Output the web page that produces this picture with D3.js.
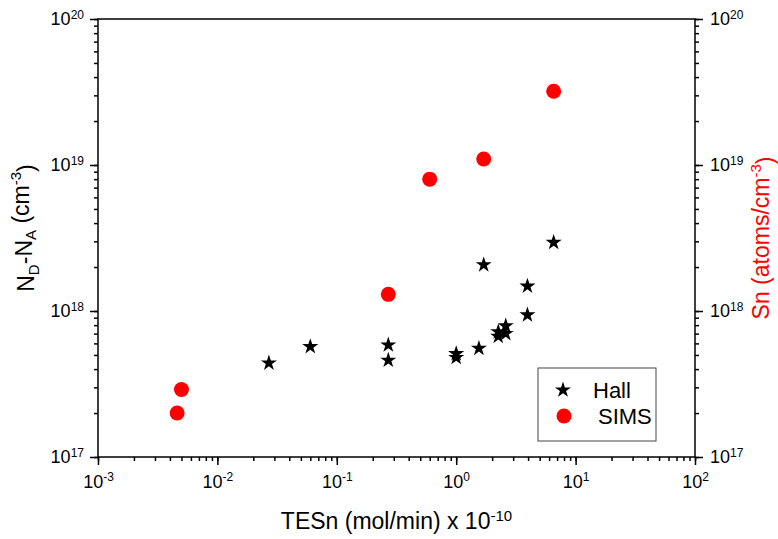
<!DOCTYPE html>
<html>
<head>
<meta charset="utf-8">
<script src="https://cdn.jsdelivr.net/npm/d3@7"></script>
<style>
    body { margin: 0; background: #fff; }
    svg { font-family: "Liberation Sans", Arial, sans-serif; }
</style>
</head>
<body>
<div id="chart"></div>
<script>
// TESn flow (x 1e-10 mol/min) vs carrier / Sn concentration
const hallX = [0.027, 0.06, 0.27, 0.27, 1.0, 1.0, 1.55, 2.25, 2.6, 2.25, 2.6, 3.95, 3.95, 1.7, 6.55];
const hallY = [4.4e17, 5.7e17, 5.85e17, 4.6e17, 5.1e17, 4.8e17, 5.55e17, 7.2e17, 7.9e17, 6.7e17, 7.0e17, 9.4e17, 1.48e18, 2.07e18, 2.95e18];
const simsX = [0.0046, 0.005, 0.27, 0.6, 1.7, 6.55];
const simsY = [2.0e17, 2.9e17, 1.3e18, 8.0e18, 1.1e19, 3.2e19];
const xDomain = [1e-3, 1e2];
const yDomain = [1e17, 1e20];
const xMajor = [1e-3, 1e-2, 1e-1, 1, 10, 100];
const yMajor = [1e17, 1e18, 1e19, 1e20];
const seriesNames = ["Hall", "SIMS"];

const width = 778;
const height = 539;
const margin = { top: 19, right: 83, bottom: 82, left: 98 };
const plotW = width - margin.left - margin.right;
const plotH = height - margin.top - margin.bottom;

const svg = d3.select("#chart")
    .append("svg")
    .attr("width", width)
    .attr("height", height);

const g = svg.append("g")
    .attr("transform", "translate(" + margin.left + "," + margin.top + ")");

const x = d3.scaleLog().domain(xDomain).range([0, plotW]);
const yLeft = d3.scaleLog().domain(yDomain).range([plotH, 0]);
const yRight = d3.scaleLog().domain(yDomain).range([plotH, 0]);

// write 10^n labels with a superscript
function powerLabel(sel, supSize) {
    sel.each(function(d) {
        const t = d3.select(this);
        t.text(null);
        t.append("tspan").text("10");
        t.append("tspan")
            .attr("dy", "-0.55em")
            .attr("font-size", supSize)
            .text(Math.round(Math.log10(d)));
    });
}

function styleAxis(ax) {
    ax.select(".domain").remove();
    ax.selectAll("line").attr("stroke", "#000").attr("stroke-width", 1.5);
    ax.attr("font-family", null).attr("font-size", null);
}

// minor ticks
const xMinor = g.append("g")
    .attr("transform", "translate(0," + plotH + ")")
    .call(d3.axisBottom(x).tickValues(x.ticks()).tickSize(4).tickFormat(""));
styleAxis(xMinor);

const yMinorL = g.append("g")
    .call(d3.axisLeft(yLeft).tickValues(yLeft.ticks()).tickSize(4).tickFormat(""));
styleAxis(yMinorL);

const yMinorR = g.append("g")
    .attr("transform", "translate(" + plotW + ",0)")
    .call(d3.axisRight(yRight).tickValues(yRight.ticks()).tickSize(4).tickFormat(""));
styleAxis(yMinorR);

// major ticks with labels
const xAxis = g.append("g")
    .attr("transform", "translate(0," + plotH + ")")
    .call(d3.axisBottom(x).tickValues(xMajor).tickSize(8).tickPadding(10));
styleAxis(xAxis);
xAxis.selectAll("text")
    .attr("font-size", 18)
    .attr("fill", "#000")
    .call(powerLabel, 12);

const yAxisL = g.append("g")
    .call(d3.axisLeft(yLeft).tickValues(yMajor).tickSize(8).tickPadding(6));
styleAxis(yAxisL);
yAxisL.selectAll("text")
    .attr("font-size", 18)
    .attr("fill", "#000")
    .call(powerLabel, 12);

const yAxisR = g.append("g")
    .attr("transform", "translate(" + plotW + ",0)")
    .call(d3.axisRight(yRight).tickValues(yMajor).tickSize(8).tickPadding(7));
styleAxis(yAxisR);
yAxisR.selectAll("text")
    .attr("font-size", 18)
    .attr("fill", "#000")
    .call(powerLabel, 12);

// frame
g.append("rect")
    .attr("width", plotW)
    .attr("height", plotH)
    .attr("fill", "none")
    .attr("stroke", "#000")
    .attr("stroke-width", 1.5);

// data
const star = d3.symbol().type(d3.symbolStar).size(80);

g.selectAll(".hall")
    .data(hallX.map((v, i) => ({ x: v, y: hallY[i] })))
    .enter().append("path")
    .attr("class", "hall")
    .attr("d", star)
    .attr("transform", d => "translate(" + x(d.x) + "," + yLeft(d.y) + ")")
    .attr("fill", "#000");

g.selectAll(".sims")
    .data(simsX.map((v, i) => ({ x: v, y: simsY[i] })))
    .enter().append("circle")
    .attr("class", "sims")
    .attr("cx", d => x(d.x))
    .attr("cy", d => yRight(d.y))
    .attr("r", 7.5)
    .attr("fill", "#ff0000");

// axis titles
const xTitle = svg.append("text")
    .attr("x", margin.left + plotW / 2)
    .attr("y", 529)
    .attr("text-anchor", "middle")
    .attr("font-size", 23);
xTitle.append("tspan").text("TESn (mol/min) x 10");
xTitle.append("tspan").attr("dy", "-0.55em").attr("font-size", 15).text("-10");

const yTitle = svg.append("text")
    .attr("transform", "translate(34," + (margin.top + plotH / 2 - 10) + ") rotate(-90)")
    .attr("text-anchor", "middle")
    .attr("font-size", 23);
yTitle.append("tspan").text("N");
yTitle.append("tspan").attr("dy", "0.3em").attr("font-size", 15).text("D");
yTitle.append("tspan").attr("dy", "-0.3em").text("-N");
yTitle.append("tspan").attr("dy", "0.3em").attr("font-size", 15).text("A");
yTitle.append("tspan").attr("dy", "-0.3em").text(" (cm");
yTitle.append("tspan").attr("dy", "-0.55em").attr("font-size", 15).text("-3");
yTitle.append("tspan").attr("dy", "0.55em").text(")");

const rTitle = svg.append("text")
    .attr("transform", "translate(769," + (margin.top + plotH / 2) + ") rotate(-90)")
    .attr("text-anchor", "middle")
    .attr("font-size", 23)
    .attr("fill", "#ff0000");
rTitle.append("tspan").text("Sn (atoms/cm");
rTitle.append("tspan").attr("dy", "-0.55em").attr("font-size", 15).text("-3");
rTitle.append("tspan").attr("dy", "0.55em").text(")");

// legend
const legend = svg.append("g")
    .attr("transform", "translate(538,368)");

legend.append("rect")
    .attr("width", 118)
    .attr("height", 73)
    .attr("fill", "#fff")
    .attr("stroke", "#444")
    .attr("stroke-width", 1);

legend.append("path")
    .attr("d", star)
    .attr("transform", "translate(25,22)")
    .attr("fill", "#000");
legend.append("text")
    .attr("x", 55)
    .attr("y", 30)
    .attr("font-size", 22)
    .text(seriesNames[0]);

legend.append("circle")
    .attr("cx", 26)
    .attr("cy", 48)
    .attr("r", 7.5)
    .attr("fill", "#ff0000");
legend.append("text")
    .attr("x", 60)
    .attr("y", 56)
    .attr("font-size", 22)
    .text(seriesNames[1]);
</script>
</body>
</html>
